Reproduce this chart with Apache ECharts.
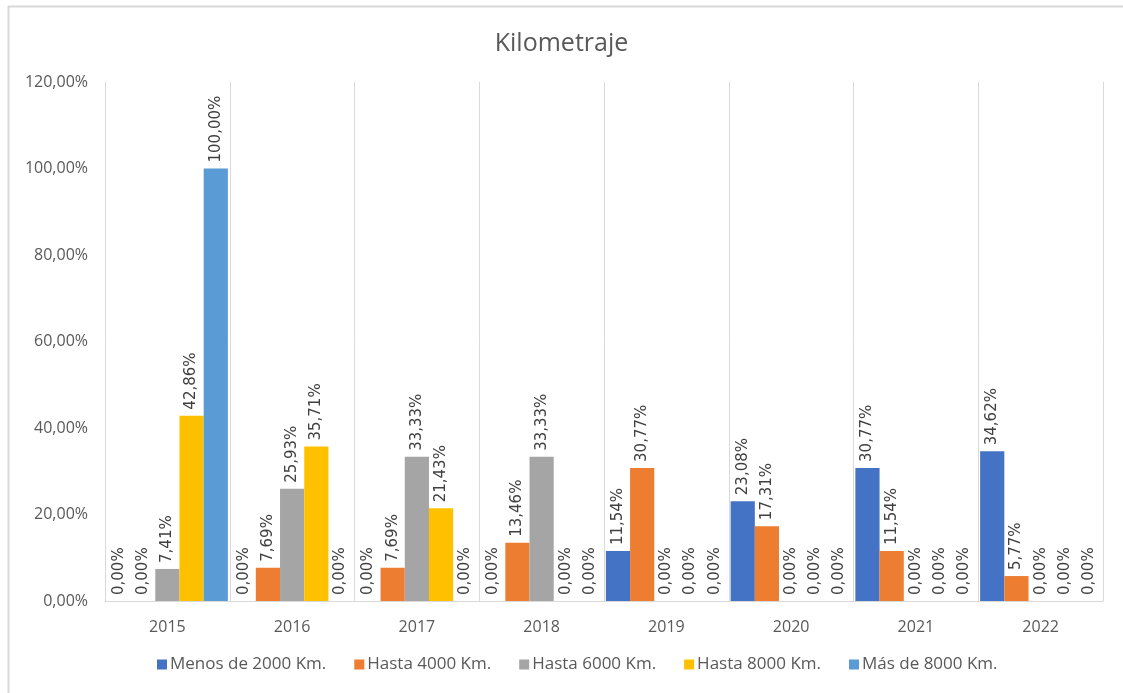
<!DOCTYPE html>
<html>
<head>
<meta charset="utf-8">
<script src="https://cdn.jsdelivr.net/npm/echarts@6/dist/echarts.min.js"></script>
<style>
html,body{margin:0;padding:0;background:#fff;}
#chart{width:1123px;height:693px;}
</style>
</head>
<body>
<div id="chart"></div>
<script>
const years = ['2015','2016','2017','2018','2019','2020','2021','2022'];
const seriesNames = ['Menos de 2000 Km.','Hasta 4000 Km.','Hasta 6000 Km.','Hasta 8000 Km.','Más de 8000 Km.'];
const menos2000 = [0, 0, 0, 0, 11.54, 23.08, 30.77, 34.62];
const hasta4000 = [0, 7.69, 7.69, 13.46, 30.77, 17.31, 11.54, 5.77];
const hasta6000 = [7.41, 25.93, 33.33, 33.33, 0, 0, 0, 0];
const hasta8000 = [42.86, 35.71, 21.43, 0, 0, 0, 0, 0];
const mas8000 = [100, 0, 0, 0, 0, 0, 0, 0];
const yTicks = [0, 20, 40, 60, 80, 100, 120];

const colors = ['#4472C4','#ED7D31','#A5A5A5','#FFC000','#5B9BD5'];
const seriesData = [menos2000, hasta4000, hasta6000, hasta8000, mas8000];

function pct(v){ return v.toFixed(2).replace('.', ',') + '%'; }

const chart = echarts.init(document.getElementById('chart'));
chart.setOption({
  animation: false,
  backgroundColor: '#fff',
  color: colors,
  title: {
    text: 'Kilometraje',
    left: 'center',
    top: 26,
    textStyle: {fontFamily: 'Open Sans', fontSize: 25, fontWeight: 'normal', color: '#595959'}
  },
  graphic: [
    {type: 'line', shape: {x1: 8, y1: 6.5, x2: 1123, y2: 6.5}, style: {stroke: '#d9d9d9', lineWidth: 2}},
    {type: 'line', shape: {x1: 8.5, y1: 6, x2: 8.5, y2: 693}, style: {stroke: '#d9d9d9', lineWidth: 2}}
  ],
  legend: {
    bottom: 15,
    left: 152,
    itemWidth: 10,
    itemHeight: 10,
    itemGap: 28,
    icon: 'rect',
    textStyle: {fontFamily: 'Open Sans', fontSize: 17, color: '#595959', padding: [0,0,0,-2]},
    data: seriesNames
  },
  grid: {left: 105, right: 20, top: 82, bottom: 92},
  xAxis: {
    type: 'category',
    data: years,
    axisLine: {show: true, lineStyle: {color: '#d9d9d9', width: 1}},
    axisTick: {show: false},
    splitLine: {show: true, lineStyle: {color: '#d9d9d9', width: 1}},
    axisLabel: {margin: 18, fontFamily: 'Open Sans', fontSize: 16, color: '#595959'}
  },
  yAxis: {
    type: 'value',
    min: yTicks[0],
    max: yTicks[yTicks.length-1],
    interval: 20,
    axisLine: {show: false},
    axisTick: {show: false},
    splitLine: {show: false},
    axisLabel: {margin: 17, fontFamily: 'Open Sans', fontSize: 16, color: '#595959', formatter: v => pct(v)}
  },
  series: seriesNames.map((name, i) => ({
    name: name,
    type: 'bar',
    data: seriesData[i],
    barGap: '0%',
    barCategoryGap: '3%',
    itemStyle: {color: colors[i]},
    label: {
      show: true,
      position: 'top',
      rotate: 90,
      align: 'left',
      verticalAlign: 'middle',
      distance: 6,
      fontFamily: 'DejaVu Sans',
      fontSize: 15,
      color: '#404040',
      formatter: p => pct(p.value)
    }
  }))
});
</script>
</body>
</html>
